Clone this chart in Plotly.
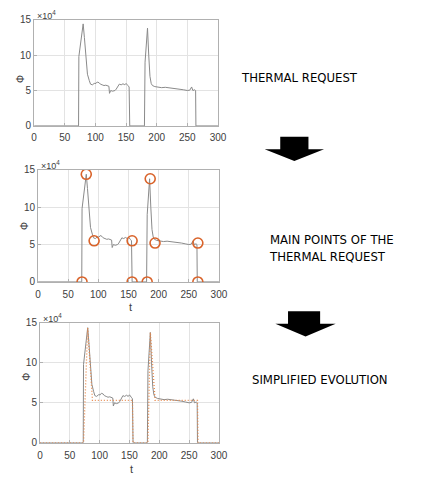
import plotly.graph_objects as go

# thermal request, phi in units of 1e4
t_curve = [0, 72.5, 73, 76, 80, 82, 84, 87, 90, 92, 95, 98, 101, 103, 106, 108, 111, 114,
           117, 120, 122, 123, 125, 128, 132, 134, 136, 139, 142, 145, 148, 150, 153, 155,
           156, 180, 181, 185, 187, 189, 191, 193, 197, 202, 208, 214, 220, 226, 232, 238,
           244, 250, 254, 257, 259, 262, 263.5, 264, 300]
phi_curve = [0, 0, 9.8, 11.5, 14.4, 12.5, 10, 7.3, 6.4, 5.9, 5.8, 6.0, 6.0, 6.2, 6.1, 5.9,
             5.8, 5.7, 5.75, 5.7, 5.6, 4.6, 5.0, 4.9, 5.0, 5.2, 5.45, 5.9, 5.8, 5.95, 5.8,
             6.0, 5.7, 5.5, 0, 0, 9.0, 13.8, 10, 7.0, 6.0, 5.7, 5.55, 5.5, 5.4, 5.45, 5.4,
             5.35, 5.3, 5.2, 5.1, 5.0, 5.05, 5.5, 5.0, 5.1, 5.0, 0, 0]

# main points
pt_t = [73, 80, 93, 156, 156, 181, 186, 194, 265, 265]
pt_phi = [0, 14.4, 5.5, 5.5, 0, 0, 13.8, 5.2, 5.2, 0]

# simplified evolution
s_t = [0, 73, 80, 88, 155, 156, 181, 185, 193, 264, 265, 300]
s_phi = [0, 0, 14.4, 5.3, 5.3, 0, 0, 13.8, 5.3, 5.3, 0, 0]

x_ticks = [0, 50, 100, 150, 200, 250, 300]
y_ticks = [0, 5, 10, 15]

W, H = 441, 480
GRAY = "#8a8a8a"
ORANGE = "#D9632A"

# pixel boxes of the three panels: left, right, top, bottom
panels = [(32, 221, 14, 123), (36, 222, 168, 283), (38, 222, 325, 448)]
standoffs = [2, 3, 3]

fig = go.Figure()
for i in range(3):
    sfx = "" if i == 0 else str(i + 1)
    fig.add_trace(go.Scatter(x=t_curve, y=phi_curve, mode="lines", line=dict(color=GRAY, width=1),
                             xaxis="x" + sfx, yaxis="y" + sfx, showlegend=False))
fig.add_trace(go.Scatter(x=pt_t, y=pt_phi, mode="markers",
                         marker=dict(symbol="circle-open", size=10, color=ORANGE, line=dict(width=1.6)),
                         xaxis="x2", yaxis="y2", showlegend=False))
fig.add_trace(go.Scatter(x=s_t, y=s_phi, mode="lines", line=dict(color="#E8884A", width=1.3, dash="1px,2px"),
                         xaxis="x3", yaxis="y3", showlegend=False))

axis_common = dict(showline=True, linecolor="#b0b0b0", linewidth=1, mirror=True,
                   showgrid=True, gridcolor="#e3e3e3", zeroline=False,
                   ticks="inside", ticklen=3, tickcolor="#b0b0b0",
                   tickfont=dict(family="Liberation Sans, Arial, sans-serif", size=10, color="#404040"))
layout = {}
for i, (l, r, t, b) in enumerate(panels):
    sfx = "" if i == 0 else str(i + 1)
    layout["xaxis" + sfx] = dict(axis_common, domain=[l / W, r / W], range=[0, 300],
                                 tickvals=x_ticks, anchor="y" + sfx, ticklabelstandoff=standoffs[i])
    layout["yaxis" + sfx] = dict(axis_common, domain=[1 - b / H, 1 - t / H], range=[0, 15],
                                 tickvals=y_ticks, anchor="x" + sfx)

fig.update_layout(width=W, height=H, margin=dict(l=0, r=0, t=0, b=0),
                  paper_bgcolor="white", plot_bgcolor="white", **layout)

lab_font = dict(family="Liberation Sans, Arial, sans-serif", size=10, color="#404040")
t_offsets = [None, 19, 20]
for i, (l, r, t, b) in enumerate(panels):
    fig.add_annotation(x=(l + 1) / W, y=1 - (t - 1) / H, xref="paper", yref="paper",
                       text="×10<sup>4</sup>", showarrow=False, xanchor="left", yanchor="bottom",
                       font=dict(lab_font, size=9), yshift=-4)
    fig.add_annotation(x=(l - 21) / W, y=1 - (t + b) / 2 / H, xref="paper", yref="paper",
                       text="Φ", showarrow=False, textangle=-90, font=lab_font)
    if t_offsets[i]:
        fig.add_annotation(x=(l + r) / 2 / W, y=1 - (b + t_offsets[i]) / H, xref="paper", yref="paper",
                           text="t", showarrow=False, yanchor="top", borderpad=0,
                           font=dict(lab_font, size=11))

txt_font = dict(family="Liberation Sans Narrow, DejaVu Sans Condensed, sans-serif", size=13, color="black")
texts = [("THERMAL REQUEST", 243, 73), ("MAIN POINTS OF THE<br>THERMAL REQUEST", 271, 248),
         ("SIMPLIFIED EVOLUTION", 254, 383)]
for txt, px, py in texts:
    fig.add_annotation(x=px / W, y=1 - py / H, xref="paper", yref="paper", text=txt,
                       showarrow=False, xanchor="left", yanchor="middle", align="left", font=txt_font)

# down arrows
for rx0, rx1, ry0, ry1, tx0, tx1, ty1 in [(285, 314, 134, 147, 269, 330, 159),
                                           (293, 326, 313, 326, 280, 342, 339)]:
    path = (f"M {rx0/W} {1-ry0/H} L {rx1/W} {1-ry0/H} L {rx1/W} {1-ry1/H} L {tx1/W} {1-ry1/H} "
            f"L {(tx0+tx1)/2/W} {1-ty1/H} L {tx0/W} {1-ry1/H} L {rx0/W} {1-ry1/H} Z")
    fig.add_shape(type="path", path=path, xref="paper", yref="paper",
                  fillcolor="black", line=dict(width=0))

# drop the browser's default page margin so the figure sits at the top-left corner
fig.write_html("out.html", config={"displayModeBar": False},
               post_script="document.body.style.margin='0';")
